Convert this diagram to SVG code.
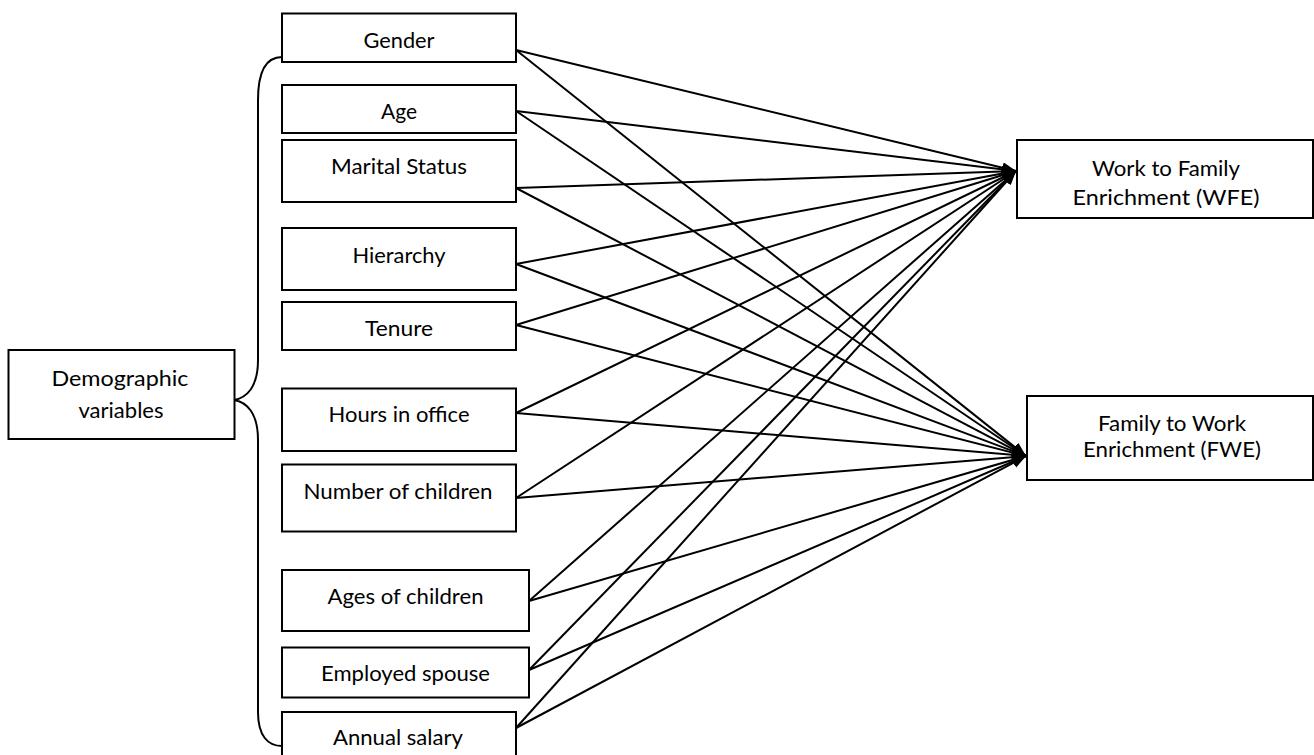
<svg xmlns="http://www.w3.org/2000/svg" width="1314" height="755" viewBox="0 0 1314 755">
<style>
  .box { fill: #ffffff; stroke: #000000; stroke-width: 2; }
  .lbl { font-family: Lato, "Liberation Sans", sans-serif; font-size: 21px; fill: #000000; text-anchor: middle; }
  .conn { stroke: #000000; stroke-width: 2; fill: none; marker-end: url(#arrow); }
  .brace { stroke: #000000; stroke-width: 2; fill: none; }
</style>
<defs>
  <marker id="arrow" markerUnits="userSpaceOnUse" markerWidth="15" markerHeight="12" refX="14" refY="5.5" orient="auto">
    <path d="M0,0 L14,5.5 L0,11 z" fill="#000000"/>
  </marker>
</defs>
<rect x="0" y="0" width="1314" height="755" fill="#ffffff"/>

<path id="brace" class="brace" d="M282,57 C266,57 258,72 258,100 L258,360 C258,388 246,398 234,400 C246,402 258,412 258,440 L258,712 C258,736 268,746 282,746"/>

<g id="node-demographic">
  <rect class="box" x="8.5" y="350" width="226" height="89"/>
  <text class="lbl" x="120" y="386" textLength="137" lengthAdjust="spacingAndGlyphs">Demographic</text>
  <text class="lbl" x="121" y="418" textLength="85" lengthAdjust="spacingAndGlyphs">variables</text>
</g>
<g id="node-gender">
  <rect class="box" x="282" y="13.5" width="234" height="48.5"/>
  <text class="lbl" x="399" y="48" textLength="71" lengthAdjust="spacingAndGlyphs">Gender</text>
</g>
<g id="node-age">
  <rect class="box" x="282" y="85" width="234" height="48"/>
  <text class="lbl" x="399" y="119" textLength="36" lengthAdjust="spacingAndGlyphs">Age</text>
</g>
<g id="node-marital">
  <rect class="box" x="282" y="140" width="234" height="62"/>
  <text class="lbl" x="399" y="174" textLength="136" lengthAdjust="spacingAndGlyphs">Marital Status</text>
</g>
<g id="node-hierarchy">
  <rect class="box" x="282" y="228" width="234" height="62"/>
  <text class="lbl" x="399" y="263" textLength="93" lengthAdjust="spacingAndGlyphs">Hierarchy</text>
</g>
<g id="node-tenure">
  <rect class="box" x="282" y="302" width="234" height="48"/>
  <text class="lbl" x="399" y="336" textLength="68" lengthAdjust="spacingAndGlyphs">Tenure</text>
</g>
<g id="node-hours">
  <rect class="box" x="282" y="388.5" width="234" height="62.5"/>
  <text class="lbl" x="399" y="422" textLength="141" lengthAdjust="spacingAndGlyphs">Hours in office</text>
</g>
<g id="node-children">
  <rect class="box" x="282" y="464.5" width="234" height="67"/>
  <text class="lbl" x="398" y="498.5" textLength="189" lengthAdjust="spacingAndGlyphs">Number of children</text>
</g>
<g id="node-ages">
  <rect class="box" x="282" y="570" width="247" height="61"/>
  <text class="lbl" x="405.5" y="603.5" textLength="156" lengthAdjust="spacingAndGlyphs">Ages of children</text>
</g>
<g id="node-spouse">
  <rect class="box" x="282" y="647.5" width="247" height="50"/>
  <text class="lbl" x="405.5" y="681" textLength="169" lengthAdjust="spacingAndGlyphs">Employed spouse</text>
</g>
<g id="node-salary">
  <rect class="box" x="282" y="712" width="234" height="60"/>
  <text class="lbl" x="398" y="745" textLength="130" lengthAdjust="spacingAndGlyphs">Annual salary</text>
</g>
<g id="node-wfe">
  <rect class="box" x="1017" y="140" width="296" height="78"/>
  <text class="lbl" x="1166" y="176" textLength="148" lengthAdjust="spacingAndGlyphs">Work to Family</text>
  <text class="lbl" x="1166" y="205" textLength="187" lengthAdjust="spacingAndGlyphs">Enrichment (WFE)</text>
</g>
<g id="node-fwe">
  <rect class="box" x="1027" y="396" width="286" height="84"/>
  <text class="lbl" x="1172" y="431" textLength="148" lengthAdjust="spacingAndGlyphs">Family to Work</text>
  <text class="lbl" x="1172" y="457" textLength="178" lengthAdjust="spacingAndGlyphs">Enrichment (FWE)</text>
</g>

<g id="connectors">
  <line class="conn" x1="516" y1="50" x2="1016" y2="171"/>
  <line class="conn" x1="516" y1="50" x2="1026" y2="456"/>
  <line class="conn" x1="516" y1="111" x2="1016" y2="171"/>
  <line class="conn" x1="516" y1="111" x2="1026" y2="456"/>
  <line class="conn" x1="516" y1="188" x2="1016" y2="171"/>
  <line class="conn" x1="516" y1="188" x2="1026" y2="456"/>
  <line class="conn" x1="516" y1="264" x2="1016" y2="171"/>
  <line class="conn" x1="516" y1="264" x2="1026" y2="456"/>
  <line class="conn" x1="516" y1="325" x2="1016" y2="171"/>
  <line class="conn" x1="516" y1="325" x2="1026" y2="456"/>
  <line class="conn" x1="516" y1="413" x2="1016" y2="171"/>
  <line class="conn" x1="516" y1="413" x2="1026" y2="456"/>
  <line class="conn" x1="516" y1="498" x2="1016" y2="171"/>
  <line class="conn" x1="516" y1="498" x2="1026" y2="456"/>
  <line class="conn" x1="529" y1="601" x2="1016" y2="171"/>
  <line class="conn" x1="529" y1="601" x2="1026" y2="456"/>
  <line class="conn" x1="529" y1="670" x2="1016" y2="171"/>
  <line class="conn" x1="529" y1="670" x2="1026" y2="456"/>
  <line class="conn" x1="516" y1="728" x2="1016" y2="171"/>
  <line class="conn" x1="516" y1="728" x2="1026" y2="456"/>
</g>
</svg>
